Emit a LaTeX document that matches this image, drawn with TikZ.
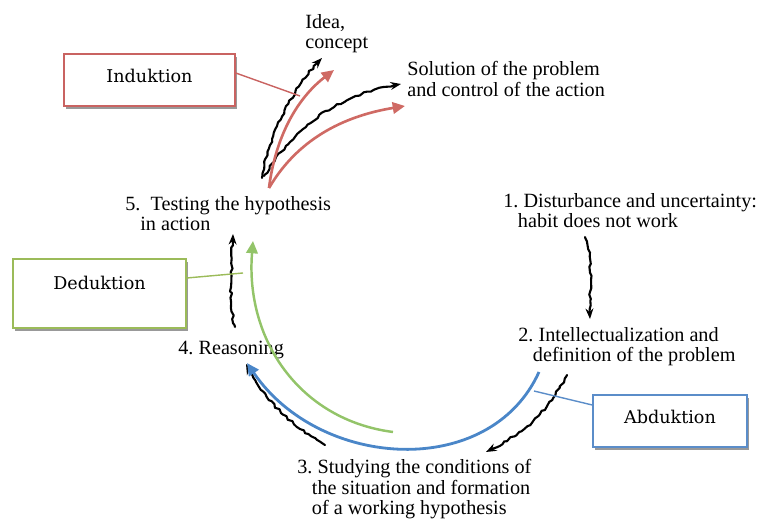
\documentclass[tikz,border=0pt]{standalone}
\usepackage{fontspec}
\setmainfont{Liberation Serif}
\newfontfamily\boxfont{DejaVu Serif}
\usetikzlibrary{arrows.meta,decorations.pathmorphing,shadows}
\definecolor{indred}{HTML}{C96361}
\definecolor{dedgreen}{HTML}{9BBB59}
\definecolor{abdblue}{HTML}{5B8DC9}
\definecolor{arcblue}{HTML}{4A86C8}
\definecolor{arrred}{HTML}{CF6A64}
\definecolor{arcgreen}{HTML}{93C469}
\pgfmathsetseed{7}
\frenchspacing
\begin{document}
\begin{tikzpicture}[x=0.02cm,y=-0.02cm,
  lbl/.style={font=\fontsize{11.5}{11.7}\selectfont, inner sep=0pt, anchor=north west, align=left},
  conceptbox/.style={draw, line width=0.9pt, fill=white, font=\boxfont\fontsize{10}{12}\selectfont,
    text height=7.3pt, inner sep=0pt,
    drop shadow={shadow xshift=1.2pt, shadow yshift=-1.6pt, fill=black, opacity=0.4}},
  hand/.style={black, line width=1.2pt, line cap=round, line join=round, decorate,
    decoration={random steps, segment length=2pt, amplitude=0.65pt, pre length=1pt, post length=4pt},
    -{Stealth[length=6pt, width=4.5pt, inset=2pt]}},
  redarrow/.style={arrred, line width=1.5pt, -{Triangle[length=7pt, width=6.5pt]}},
  pointer/.style={line width=0.8pt}]
\useasboundingbox (0,0) rectangle (764,519);

% text labels
\node[lbl] (idea) at (305,14) {Idea,\\concept};
\node[lbl] (sol) at (407,61) {Solution of the problem\\and control of the action};
\node[lbl] (s1) at (503,193) {1. Disturbance and uncertainty:\\\hspace{8.3pt}habit does not work};
\node[lbl] (s2) at (518,327) {2. Intellectualization and\\\hspace{8.3pt}definition of the problem};
\node[lbl] (s3) at (297,459) {3. Studying the conditions of\\\hspace{8.3pt}the situation and formation\\\hspace{8.3pt}of a working hypothesis};
\node[lbl] (s4) at (178,341) {4. Reasoning};
\node[lbl] (s5) at (125,196) {5.~ Testing the hypothesis\\\hspace{8.5pt}in action};

% concept boxes
\node[conceptbox, draw=indred, minimum width=3.42cm, minimum height=1.04cm, text depth=5pt] (ind) at (149.5,80) {Induktion};
\node[conceptbox, draw=dedgreen, minimum width=3.46cm, minimum height=1.38cm, text depth=11.3pt] (ded) at (99.5,293.5) {Deduktion};
\node[conceptbox, draw=abdblue, minimum width=3.08cm, minimum height=1.04cm, text depth=5pt] (abd) at (670,421) {Abduktion};

% coordinates for arrow ends
\coordinate (iA) at (262,178);
\coordinate (iB) at (322,58);
\coordinate (rA) at (269,188);
\coordinate (rB) at (334,70);
\coordinate (sA) at (264,176);
\coordinate (sB) at (401,84);
\coordinate (rsB) at (405,106);
\coordinate (a12s) at (585,237);
\coordinate (a12e) at (590,319);
\coordinate (a23s) at (567,375);
\coordinate (a23e) at (486,452);
\coordinate (a34s) at (325,445);
\coordinate (a34e) at (246,364);
\coordinate (a45s) at (235,327);
\coordinate (a45e) at (233,234);
\coordinate (blS) at (539,372);
\coordinate (blE) at (247,363);
\coordinate (grS) at (393,432);
\coordinate (grE) at (253,241);

% outcome arrows
\draw[hand] (iA) .. controls (268,140) and (290,90) .. (iB);
\draw[hand] (sA) .. controls (300,120) and (340,95) .. (sB);
\draw[redarrow] (rA) .. controls (275,140) and (295,100) .. (rB);
\draw[redarrow] (rA) .. controls (300,135) and (350,115) .. (rsB);

% cycle arrows
\draw[hand] (a12s) .. controls (595,265) and (588,295) .. (a12e);
\draw[hand] (a23s) .. controls (548,410) and (530,430) .. (a23e);
\draw[hand] (a34s) .. controls (300,430) and (265,405) .. (a34e);
\draw[hand] (a45s) .. controls (228,300) and (232,265) .. (a45e);

% coloured arcs
\draw[arcblue, line width=1.6pt, -{Triangle[length=7pt, width=6.5pt]}] (blS) .. controls (490,480) and (320,470) .. (blE);
\draw[arcgreen, line width=1.4pt, -{Triangle[length=7pt, width=6.5pt]}] (grS) .. controls (300,420) and (245,340) .. (grE);

% pointers from boxes
\draw[pointer, indred] (ind.east |- 0,73) -- (300,96);
\draw[pointer, dedgreen] (ded.east |- 0,278) -- (243,273);
\draw[pointer, abdblue] (abd.west |- 0,405) -- (534,391);
\end{tikzpicture}
\end{document}
